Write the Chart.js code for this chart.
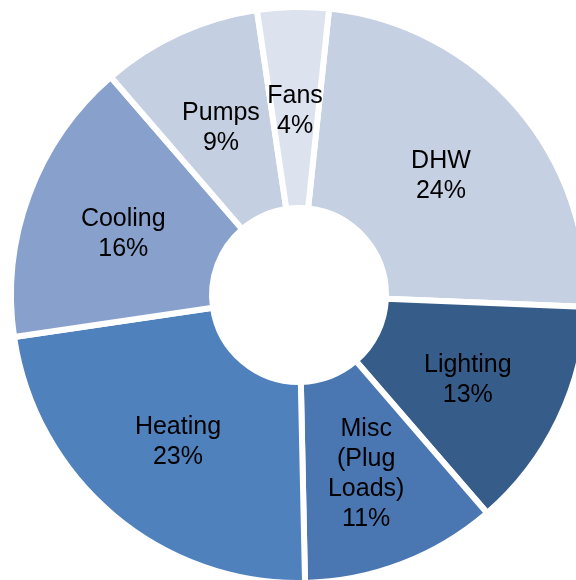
<!DOCTYPE html>
<html>

<head>
    <title>End Use Breakdown</title>
    <script src="https://cdn.jsdelivr.net/npm/chart.js"></script>
    <style>
        html, body { margin: 0; padding: 0; background: #fff; overflow: hidden; }
        canvas { display: block; }
    </style>
</head>

<body>

    <canvas id="myChart" width="576" height="580"></canvas>

    <script>
        var endUses = ['DHW', 'Lighting', ['Misc', '(Plug', 'Loads)'], 'Heating', 'Cooling', 'Pumps', 'Fans'];
        var shares = [24, 13, 11, 23, 16, 9, 4];
        var sliceColors = ['#c5d0e3', '#365c8a', '#4a77b2', '#4f81bd', '#88a1cc', '#c5cfe2', '#dce2ee'];

        // writes name + percentage in the middle of every slice
        var sliceLabels = {
            id: 'sliceLabels',
            afterDatasetsDraw(chart) {
                var ctx = chart.ctx;
                var meta = chart.getDatasetMeta(0);
                ctx.save();
                ctx.font = '25px "Liberation Sans", Arial, sans-serif';
                ctx.fillStyle = '#000';
                ctx.textAlign = 'center';
                ctx.textBaseline = 'middle';
                meta.data.forEach(function (arc, i) {
                    var pos = arc.tooltipPosition();
                    var name = chart.data.labels[i];
                    var lines = [].concat(name, chart.data.datasets[0].data[i] + '%');
                    var lineHeight = 30;
                    var y0 = pos.y + 4 - (lines.length - 1) * lineHeight / 2;
                    lines.forEach(function (line, j) {
                        ctx.fillText(line, pos.x, y0 + j * lineHeight);
                    });
                });
                ctx.restore();
            }
        };

        var ctx = document.getElementById('myChart').getContext('2d');
        var myChart = new Chart(ctx, {
            type: 'doughnut',
            data: {
                labels: endUses,
                datasets: [{
                    data: shares,
                    backgroundColor: sliceColors,
                    borderColor: '#ffffff',
                    borderWidth: 6,
                    clip: false
                }]
            },
            options: {
                responsive: false,
                animation: false,
                rotation: 6,
                radius: 288,
                cutout: '30.2%',
                layout: {
                    padding: { left: 22, top: 10 }
                },
                plugins: {
                    legend: { display: false },
                    tooltip: { enabled: false }
                }
            },
            plugins: [sliceLabels]
        });
    </script>

</body>

</html>
